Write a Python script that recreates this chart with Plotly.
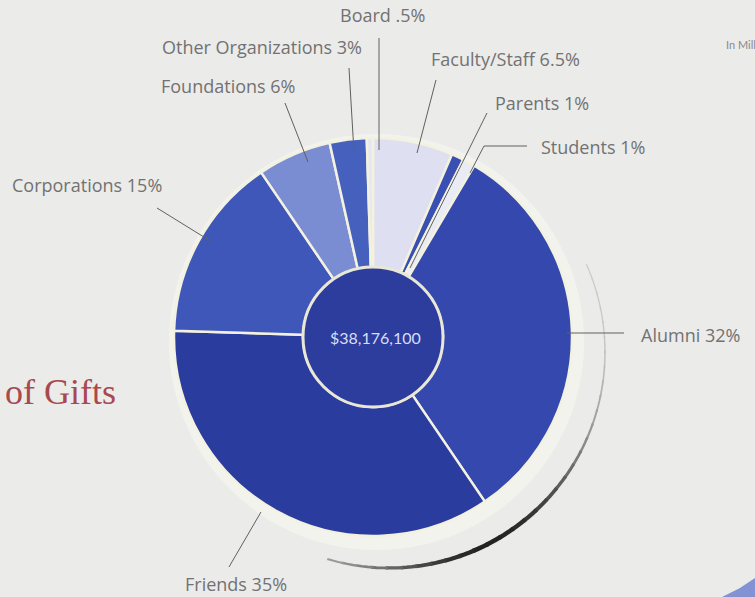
import numpy as np
import plotly.graph_objects as go

W, H = 755, 597

# Gift sources, clockwise from 12 o'clock
sources = ["Faculty/Staff", "Parents", "Students", "Alumni", "Friends",
           "Corporations", "Foundations", "Other Organizations", "Board"]
shares = [6.5, 1, 1, 32, 35, 15, 6, 3, 0.5]
slice_colors = ["#dedff0", "#3a4fb2", "#e9ebf5", "#3548ae", "#2b3c9f",
                "#3f57b8", "#7b8dd2", "#4660be", "#e6e7f1"]
total_label = "$38,176,100"
title_text = "of Gifts"
units_text = "In Millions"

# pie geometry in pixels
CX, CY, R, R_HOLE = 373, 337, 199, 70


def px(x):
    return x / W


def py(y):
    return 1 - y / H


def pct(v):
    s = f"{v:g}"
    return s[1:] if s.startswith("0.") else s


def poly(pts, close=False):
    p = "M " + " L ".join(f"{px(x):.5f},{py(y):.5f}" for x, y in pts)
    return p + (" Z" if close else "")


fig = go.Figure()

fig.add_trace(go.Pie(
    labels=sources,
    values=shares,
    sort=False,
    direction="clockwise",
    rotation=0,
    hole=R_HOLE / R,
    marker=dict(colors=slice_colors, line=dict(color="#f3f1df", width=2.5)),
    textinfo="none",
    hoverinfo="label+percent",
    showlegend=False,
    domain=dict(x=[px(CX - R), px(CX + R)], y=[py(CY + R), py(CY - R)]),
))

shapes = []

# soft pale halo behind the pie
shapes.append(dict(type="circle", xref="paper", yref="paper", layer="below",
                   x0=px(CX - R - 5), x1=px(CX + R + 12),
                   y0=py(CY + R + 14), y1=py(CY - R - 4),
                   fillcolor="#f3f3ee", line=dict(width=0)))

# drop-shadow arc on the lower right
SX, SY, SR = 389, 352, 216
angles = np.linspace(-24, 106, 34)
for a0, a1 in zip(angles[:-1], angles[1:]):
    mid = (a0 + a1) / 2
    k = np.exp(-((mid - 62) / 38) ** 2)
    g = int(205 - 170 * k)
    wdt = 1.2 + 3.3 * k
    t = np.radians(np.linspace(a0, a1 + 0.6, 4))
    pts = list(zip(SX + SR * np.cos(t), SY + SR * np.sin(t)))
    shapes.append(dict(type="path", xref="paper", yref="paper", layer="below",
                       path=poly(pts), line=dict(color=f"rgb({g},{g},{g})", width=wdt)))

# centre disc
shapes.append(dict(type="circle", xref="paper", yref="paper",
                   x0=px(CX - R_HOLE), x1=px(CX + R_HOLE),
                   y0=py(CY + R_HOLE), y1=py(CY - R_HOLE),
                   fillcolor="#2c3d9e", line=dict(color="#e9e7d6", width=3)))

# leader lines
leaders = [
    [(379, 38), (379, 150)],
    [(349, 68), (354, 152)],
    [(285, 103), (308, 162)],
    [(436, 80), (417, 153)],
    [(487, 113), (410, 268)],
    [(527, 146), (484, 146), (470, 173)],
    [(157, 208), (212, 242)],
    [(567, 333), (624, 333)],
    [(229, 567), (261, 512)],
]
for pts in leaders:
    shapes.append(dict(type="path", xref="paper", yref="paper", path=poly(pts),
                       line=dict(color="#606060", width=1)))

# corner swoosh
shapes.append(dict(type="path", xref="paper", yref="paper",
                   path=poly([(722, 597), (740, 588), (755, 578), (755, 597)], close=True),
                   fillcolor="#8292d3", line=dict(width=0)))

label_font = dict(family="'Open Sans', Lato, sans-serif", size=18, color="#727272")
# label anchor points (x, y, xanchor) per source
label_pos = {
    "Board": (383, 15, "center"),
    "Other Organizations": (364, 47, "right"),
    "Foundations": (228, 86, "center"),
    "Faculty/Staff": (429, 59, "left"),
    "Parents": (493, 103, "left"),
    "Students": (539, 147, "left"),
    "Corporations": (10, 185, "left"),
    "Alumni": (639, 335, "left"),
    "Friends": (236, 584, "center"),
}

annotations = []
for name, v in zip(sources, shares):
    x, y, xa = label_pos[name]
    annotations.append(dict(text=f"{name} {pct(v)}%", x=px(x), y=py(y),
                            xref="paper", yref="paper", xanchor=xa, yanchor="middle",
                            showarrow=False, font=label_font))

annotations.append(dict(text=total_label, x=px(CX + 2), y=py(CY), xref="paper", yref="paper",
                        xanchor="center", yanchor="middle", showarrow=False,
                        font=dict(family="Lato, sans-serif", size=16, color="#d9def4")))
annotations.append(dict(text=title_text, x=px(118), y=py(392), xref="paper", yref="paper",
                        xanchor="right", yanchor="middle", showarrow=False,
                        font=dict(family="'Liberation Serif', 'DejaVu Serif', serif",
                                  size=36, color="#a8484f")))
annotations.append(dict(text=units_text, x=px(724), y=py(45), xref="paper", yref="paper",
                        xanchor="left", yanchor="middle", showarrow=False,
                        font=dict(family="Lato, sans-serif", size=11, color="#8a8a8a")))

fig.update_layout(
    width=W, height=H,
    margin=dict(l=0, r=0, t=0, b=0),
    paper_bgcolor="#ebebea",
    plot_bgcolor="#ebebea",
    shapes=shapes,
    annotations=annotations,
)

fig.write_html("out.html", config={"displayModeBar": False})
